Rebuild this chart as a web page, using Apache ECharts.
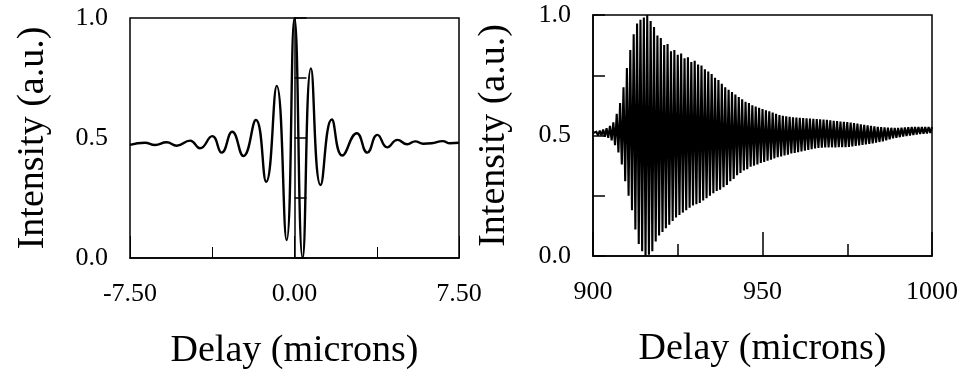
<!DOCTYPE html>
<html>
<head>
<meta charset="utf-8">
<script src="https://cdn.jsdelivr.net/npm/echarts@6/dist/echarts.min.js"></script>
<style>
  html, body { margin: 0; padding: 0; background: #fff; }
  #chart { width: 961px; height: 377px; }
</style>
</head>
<body>
<div id="chart"></div>
<script>
// Left panel: fringe extrema (delay in microns, intensity)
const leftDelay = [
  -7.50, -6.82, -6.36, -5.83, -5.37, -4.76, -4.31, -3.75, -3.32, -2.84,
  -2.33, -1.76, -1.29, -0.81, -0.36, 0.00, 0.37, 0.75, 1.19, 1.70,
  2.18, 2.84, 3.32, 3.78, 4.23, 4.69, 5.14, 5.50, 5.87, 6.25,
  6.76, 7.09, 7.50
]
const leftIntensity = [
  0.471, 0.480, 0.471, 0.482, 0.468, 0.489, 0.457, 0.508, 0.439, 0.526,
  0.425, 0.575, 0.318, 0.717, 0.075, 1.000, 0.000, 0.790, 0.304, 0.577,
  0.427, 0.520, 0.439, 0.513, 0.461, 0.492, 0.474, 0.486, 0.476, 0.478,
  0.487, 0.478, 0.480
]

// Right panel: fringe tops (at 900, 901, ... 1000) and bottoms (at 900.5 ... 999.5)
const rightStart = 900
const fringeTops = [
  0.51, 0.515, 0.52, 0.525, 0.53, 0.54, 0.555, 0.59, 0.635, 0.70,
  0.78, 0.855, 0.92, 0.965, 0.98, 0.99, 1.0, 0.975, 0.95, 0.915,
  0.905, 0.875, 0.88, 0.85, 0.855, 0.835, 0.84, 0.82, 0.825, 0.805,
  0.81, 0.795, 0.79, 0.775, 0.765, 0.755, 0.74, 0.73, 0.715, 0.70,
  0.69, 0.68, 0.67, 0.66, 0.65, 0.64, 0.635, 0.625, 0.62, 0.615,
  0.61, 0.605, 0.60, 0.595, 0.59, 0.585, 0.582, 0.58, 0.578, 0.576,
  0.574, 0.573, 0.572, 0.571, 0.57, 0.569, 0.568, 0.567, 0.566, 0.565,
  0.563, 0.561, 0.56, 0.558, 0.557, 0.556, 0.554, 0.552, 0.549, 0.546,
  0.544, 0.542, 0.54, 0.538, 0.536, 0.535, 0.534, 0.533, 0.532, 0.531,
  0.531, 0.532, 0.533, 0.534, 0.535, 0.535, 0.535, 0.535, 0.535, 0.535,
  0.535
]
const fringeBottoms = [
  0.505, 0.50, 0.50, 0.495, 0.49, 0.48, 0.46, 0.43, 0.38, 0.31,
  0.25, 0.19, 0.11, 0.05, 0.02, 0.0, 0.005, 0.02, 0.06, 0.085,
  0.10, 0.115, 0.13, 0.145, 0.16, 0.17, 0.18, 0.19, 0.20, 0.21,
  0.215, 0.22, 0.23, 0.24, 0.25, 0.26, 0.27, 0.275, 0.285, 0.295,
  0.31, 0.32, 0.335, 0.345, 0.355, 0.36, 0.37, 0.375, 0.38, 0.386,
  0.39, 0.395, 0.40, 0.405, 0.41, 0.413, 0.417, 0.42, 0.425, 0.428,
  0.431, 0.434, 0.437, 0.44, 0.443, 0.446, 0.448, 0.449, 0.45, 0.45,
  0.451, 0.451, 0.452, 0.452, 0.452, 0.453, 0.455, 0.457, 0.459, 0.461,
  0.463, 0.465, 0.467, 0.47, 0.473, 0.476, 0.48, 0.484, 0.488, 0.49,
  0.493, 0.496, 0.498, 0.50, 0.502, 0.504, 0.506, 0.507, 0.508, 0.51
]

const serif = 'Liberation Serif'
const yTitle = 'Intensity (a.u.)'
const xTitle = 'Delay (microns)'

// interleave tops and bottoms into one trace
const rightTrace = []
fringeTops.forEach((v, i) => {
  rightTrace.push([rightStart + i, v])
  if (i < fringeBottoms.length) rightTrace.push([rightStart + i + 0.5, fringeBottoms[i]])
})

const chart = echarts.init(document.getElementById('chart'), null, { renderer: 'canvas' })

const frame = { color: '#000', width: 1.5 }
const label = { color: '#000', fontFamily: serif, fontSize: 26 }
const title = { color: '#000', fontFamily: serif, fontSize: 38 }

function yAxisFor(gridIndex, gap) {
  return {
    type: 'value', gridIndex, min: 0, max: 1, interval: 0.5,
    name: yTitle, nameLocation: 'middle', nameGap: gap, nameTextStyle: title,
    axisLine: { show: true, lineStyle: frame },
    axisTick: { inside: true, length: 12, lineStyle: frame },
    minorTick: { show: true, splitNumber: 2, length: 12, lineStyle: frame },
    axisLabel: { ...label, margin: 22, formatter: (v) => v.toFixed(1), showMinLabel: true, showMaxLabel: true },
    splitLine: { show: false },
  }
}

chart.setOption({
  animation: false,
  backgroundColor: '#fff',
  grid: [
    { left: 130, top: 18, width: 329, height: 240, show: true, borderColor: '#000', borderWidth: 1.5 },
    { left: 593, top: 15, width: 340, height: 241, show: true, borderColor: '#000', borderWidth: 1.5 },
  ],
  xAxis: [
    {
      type: 'value', gridIndex: 0, min: -7.5, max: 7.5, interval: 7.5,
      name: xTitle, nameLocation: 'middle', nameGap: 74, nameTextStyle: title,
      axisLine: { show: true, onZero: false, lineStyle: frame },
      axisTick: { inside: true, length: 22, lineStyle: { color: '#000', width: 1 } },
      minorTick: { show: true, splitNumber: 2, length: 11, lineStyle: { color: '#000', width: 1 } },
      axisLabel: { ...label, margin: 23, formatter: (v) => v.toFixed(2), showMinLabel: true, showMaxLabel: true },
      splitLine: { show: false },
    },
    {
      type: 'value', gridIndex: 1, min: 900, max: 1000, interval: 50,
      name: xTitle, nameLocation: 'middle', nameGap: 74, nameTextStyle: title,
      axisLine: { show: true, onZero: false, lineStyle: frame },
      axisTick: { inside: true, length: 24, lineStyle: frame },
      minorTick: { show: true, splitNumber: 2, length: 12, lineStyle: frame },
      axisLabel: { ...label, margin: 23, formatter: (v) => String(v), showMinLabel: true, showMaxLabel: true },
      splitLine: { show: false },
    },
  ],
  yAxis: [yAxisFor(0, 78), yAxisFor(1, 80)],
  series: [
    {
      type: 'line', xAxisIndex: 0, yAxisIndex: 0,
      data: leftDelay.map((d, i) => [d, leftIntensity[i]]),
      smooth: 0.5, symbol: 'none',
      lineStyle: { color: '#000', width: 2.4 },
    },
    {
      type: 'line', xAxisIndex: 1, yAxisIndex: 1,
      data: rightTrace,
      symbol: 'none',
      lineStyle: { color: '#000', width: 2.1, join: 'miter', miterLimit: 2 },
    },
  ],
})
</script>
</body>
</html>
